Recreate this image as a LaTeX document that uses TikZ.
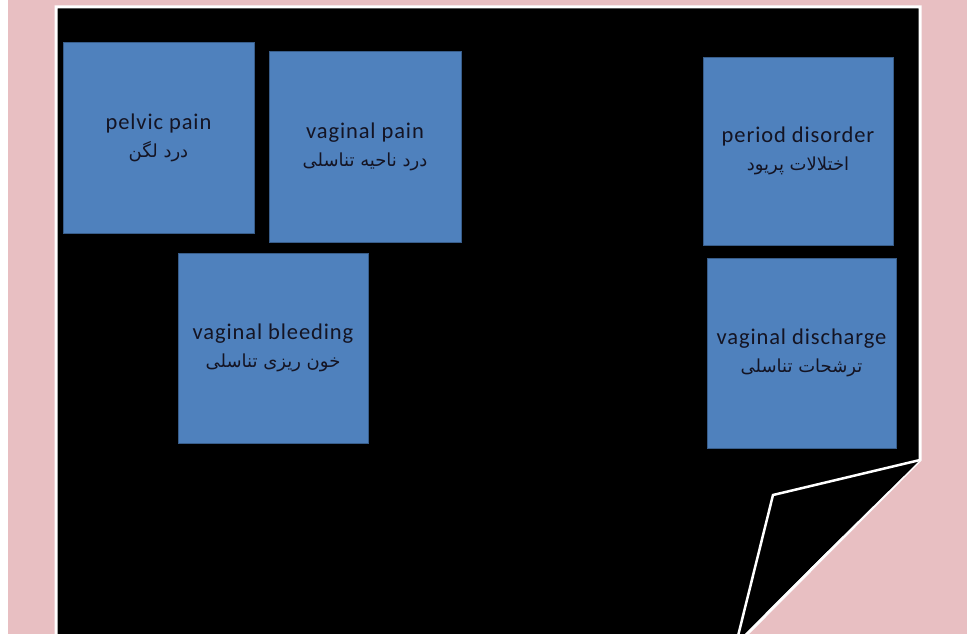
\documentclass[tikz,border=0pt]{standalone}
\usepackage{fontspec}
\setmainfont{Carlito}[LetterSpace=4]
\newfontfamily\farsifont[Script=Arabic]{DejaVu Sans}
\TeXXeTstate=1
\usepackage{xcolor}
\definecolor{paperpink}{RGB}{232,191,194}
\definecolor{boxblue}{RGB}{79,129,189}
\definecolor{boxedge}{RGB}{56,93,138}
\definecolor{labelink}{RGB}{20,20,35}
\tikzset{
  symptom/.style={draw=boxedge, fill=boxblue, line width=0.8pt,
    minimum width=190pt, minimum height=190pt, inner sep=0pt,
    align=center, text=labelink, font=\fontsize{22.5}{27}\selectfont},
  pageedge/.style={draw=white, line width=3pt, line join=miter}
}
\newcommand{\fa}[1]{{\farsifont\fontsize{18}{22}\selectfont\beginR #1\endR}}

\begin{document}
\begin{tikzpicture}[x=1pt, y=-1pt]
            % Background
            \useasboundingbox (0,0) rectangle (967,634);
            \clip (0,0) rectangle (967,634);
            \fill[paperpink] (0,0) rectangle (967,634);
            \fill[white] (0,0) rectangle (8,634);
            % Page with turned corner
            \fill[black] (56,7) -- (920,7) -- (920,460) -- (741,640) -- (56,640) -- cycle;
            \draw[pageedge] (56,640) -- (56,7) -- (920,7) -- (920,460) -- (741,640);
            \draw[pageedge, line width=2.5pt, fill=black] (920,460) -- (773,495) -- (737,640);
            % Symptom boxes
            \node[symptom, minimum width=191pt, minimum height=191pt] (pelvic) at (158.5,137.5)
              {pelvic pain\\[1pt]\fa{درد لگن}};
            \node[symptom, minimum width=192pt, minimum height=191pt] (vagpain) at (365,146.5)
              {vaginal pain\\[1pt]\fa{درد ناحیه تناسلی}};
            \node[symptom] (bleeding) at (273,348)
              {vaginal bleeding\\[1pt]\fa{خون ریزی تناسلی}};
            \node[symptom, minimum height=188pt] (period) at (798,151)
              {period disorder\\[1pt]\fa{اختلالات پریود}};
            \node[symptom, minimum width=189pt] (discharge) at (801.5,353)
              {vaginal discharge\\[1pt]\fa{ترشحات تناسلی}};
        \end{tikzpicture}
\end{document}
